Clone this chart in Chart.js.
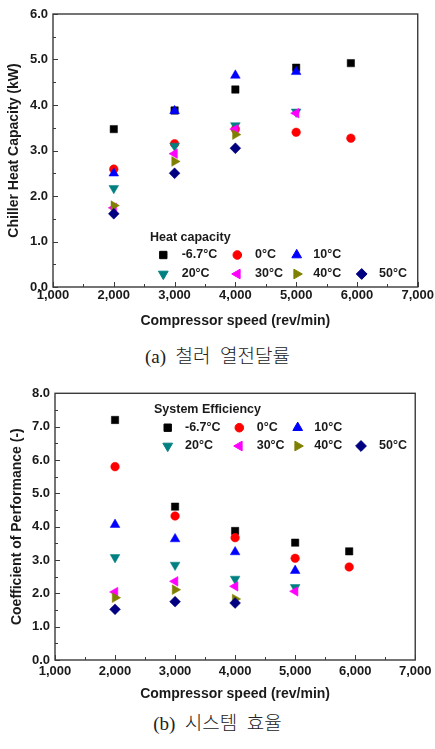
<!DOCTYPE html>
<html>
<head>
<meta charset="utf-8">
<script src="https://cdn.jsdelivr.net/npm/chart.js@4.4.0/dist/chart.umd.min.js"></script>
<style>
    body { margin: 0; background: #fff; width: 435px; height: 749px; position: relative; overflow: hidden; }
    .box { position: absolute; left: 0; width: 435px; }
    .cap { position: absolute; left: 0; width: 435px; text-align: center; font-family: "Liberation Serif", "Noto Sans CJK KR", serif; font-size: 19px; font-weight: 300; color: #222; white-space: pre; }
</style>
</head>
<body>
<div class="box" style="top:0; height:335px;"><canvas id="chartA"></canvas></div>
<div class="cap" style="top:341px;">(a)  철러  열전달률</div>
<div class="box" style="top:370px; height:335px;"><canvas id="chartB"></canvas></div>
<div class="cap" style="top:708px;">(b)  시스템  효율</div>

<script>
// Dados
const speeds = [2000, 3000, 4000, 5000, 5900];
const seriesLabels = ['-6.7°C', '0°C', '10°C', '20°C', '30°C', '40°C', '50°C'];

// (a) Heat capacity (kW)
const capM67 = [3.47, 3.88, 4.34, 4.82, 4.92];
const cap0   = [2.59, 3.15, 3.47, 3.40, 3.27];
const cap10  = [2.50, 3.87, 4.65, 4.73];
const cap20  = [2.17, 3.10, 3.55, 3.85];
const cap30  = [1.74, 2.93, 3.47, 3.82];
const cap40  = [1.79, 2.76, 3.35];
const cap50  = [1.61, 2.50, 3.05];

// (b) Coefficient of performance (-)
const copM67 = [7.20, 4.60, 3.87, 3.52, 3.26];
const cop0   = [5.80, 4.32, 3.67, 3.05, 2.79];
const cop10  = [4.06, 3.63, 3.24, 2.68];
const cop20  = [3.08, 2.85, 2.43, 2.18];
const cop30  = [2.04, 2.36, 2.21, 2.06];
const cop40  = [1.87, 2.11, 1.83];
const cop50  = [1.52, 1.75, 1.71];

// Estilo de cada série
const markerStyles = [
    { color: '#000000', style: 'rect',     rot: 0,   r: 5.2 },
    { color: '#ff0000', style: 'circle',   rot: 0,   r: 4.3 },
    { color: '#0000ff', style: 'triangle', rot: 0,   r: 5.6 },
    { color: '#008080', style: 'triangle', rot: 180, r: 5.6 },
    { color: '#ff00ff', style: 'triangle', rot: -90, r: 5.6 },
    { color: '#808000', style: 'triangle', rot: 90,  r: 5.6 },
    { color: '#000080', style: 'rectRot',  rot: 0,   r: 5.4 }
];

const FONT = '"Liberation Sans", Arial, sans-serif';
const INK = '#1a1a1a';
const FRAME = '#3a3a3a';

function makeDatasets(values) {
    return values.map((vals, i) => {
        const m = markerStyles[i];
        return {
            label: seriesLabels[i],
            data: vals.map((v, j) => ({ x: speeds[j], y: v })),
            pointStyle: m.style,
            rotation: m.rot,
            pointRadius: m.r,
            pointHoverRadius: m.r,
            pointBorderWidth: 0.5,
            backgroundColor: m.color,
            borderColor: m.color,
            showLine: false,
            order: values.length - i
        };
    });
}

// Moldura + ticks para dentro
const frameTicks = {
    id: 'frameTicks',
    afterDraw(chart, args, opts) {
        const { ctx, chartArea: a, scales: { x, y } } = chart;
        ctx.save();
        ctx.strokeStyle = FRAME;
        ctx.lineWidth = 1.4;
        ctx.strokeRect(a.left, a.top, a.right - a.left, a.bottom - a.top);
        ctx.lineWidth = 1;
        ctx.beginPath();
        for (let v = x.min; v <= x.max + 1e-6; v += opts.xMinor) {
            const px = Math.round(x.getPixelForValue(v)) + 0.5;
            const len = Math.abs((v / opts.xMinor) % 2) < 1e-6 ? 5 : 3;
            ctx.moveTo(px, a.bottom);
            ctx.lineTo(px, a.bottom - len);
        }
        for (let v = y.min; v <= y.max + 1e-6; v += opts.yMinor) {
            const py = Math.round(y.getPixelForValue(v)) + 0.5;
            const len = Math.abs(Math.round(v / opts.yMinor) % 2) === 0 ? 5 : 3;
            ctx.moveTo(a.left, py);
            ctx.lineTo(a.left + len, py);
        }
        ctx.stroke();
        ctx.restore();
    }
};

// Legenda dentro da área do gráfico
const boxLegend = {
    id: 'boxLegend',
    afterDraw(chart, args, opts) {
        const { ctx, chartArea: a } = chart;
        ctx.save();
        ctx.fillStyle = INK;
        ctx.font = 'bold 12.5px ' + FONT;
        ctx.textBaseline = 'middle';
        ctx.textAlign = 'left';
        ctx.fillText(opts.title, a.left + opts.titleX, a.top + opts.titleY);
        chart.data.datasets.forEach((ds, i) => {
            const row = i < 3 ? 0 : 1;
            const col = i < 3 ? i : i - 3;
            const cy = a.top + opts.rows[row];
            const m = markerStyles[i];
            ctx.fillStyle = m.color;
            ctx.strokeStyle = m.color;
            Chart.helpers.drawPoint(ctx, { pointStyle: m.style, rotation: m.rot, radius: m.r, borderWidth: 0.5 },
                a.left + opts.markX[col], cy);
            ctx.fillStyle = INK;
            ctx.fillText(ds.label, a.left + opts.textX[col], cy);
        });
        ctx.restore();
    }
};

function buildChart(id, values, cfg) {
    return new Chart(document.getElementById(id), {
        type: 'scatter',
        data: { datasets: makeDatasets(values) },
        options: {
            responsive: true,
            maintainAspectRatio: false,
            animation: false,
            layout: { padding: { left: 0, top: cfg.padTop, right: cfg.padRight, bottom: 0 } },
            plugins: {
                legend: { display: false },
                tooltip: { enabled: false },
                frameTicks: { xMinor: 500, yMinor: 0.5 },
                boxLegend: cfg.legend
            },
            scales: {
                x: {
                    type: 'linear', min: 1000, max: 7000,
                    afterFit: s => { s.height = cfg.xHeight; },
                    grid: { display: false, drawTicks: false },
                    border: { display: false },
                    ticks: {
                        stepSize: 1000, padding: cfg.xTickPad, color: INK,
                        font: { family: FONT, size: 13, weight: 'bold' },
                        callback: v => v.toLocaleString('en-US')
                    },
                    title: {
                        display: true, text: 'Compressor speed (rev/min)', color: INK,
                        font: { family: FONT, size: 14, weight: 'bold' },
                        padding: { top: 0, bottom: cfg.xTitlePad }
                    }
                },
                y: {
                    type: 'linear', min: 0, max: cfg.yMax,
                    afterFit: s => { s.width = cfg.yWidth; },
                    grid: { display: false, drawTicks: false },
                    border: { display: false },
                    ticks: {
                        stepSize: 1, padding: 5, color: INK,
                        font: { family: FONT, size: 13, weight: 'bold' },
                        callback: v => v.toFixed(1)
                    },
                    title: {
                        display: true, text: cfg.yTitle, color: INK,
                        font: { family: FONT, size: 14, weight: 'bold' },
                        padding: { top: cfg.yTitlePad, bottom: 0 }
                    }
                }
            }
        },
        plugins: [frameTicks, boxLegend]
    });
}

buildChart('chartA', [capM67, cap0, cap10, cap20, cap30, cap40, cap50], {
    padTop: 14, padRight: 15, xHeight: 48, yWidth: 53, yMax: 6,
    xTickPad: 1, xTitlePad: 5, yTitlePad: 6,
    yTitle: 'Chiller Heat Capacity (kW)',
    legend: {
        title: 'Heat capacity', titleX: 97, titleY: 223.3,
        rows: [241, 260],
        markX: [110.3, 184.3, 243.7, 308.7],
        textX: [128.7, 202, 260.3, 326]
    }
});

buildChart('chartB', [copM67, cop0, cop10, cop20, cop30, cop40, cop50], {
    padTop: 23.3, padRight: 19.3, xHeight: 45, yWidth: 55, yMax: 8,
    xTickPad: 3.5, xTitlePad: 2, yTitlePad: 9,
    yTitle: 'Coefficient of Performance (-)',
    legend: {
        title: 'System Efficiency', titleX: 99, titleY: 16.7,
        rows: [34.4, 52.7],
        markX: [112.7, 184.3, 242.7, 306],
        textX: [130, 201.7, 259.3, 324]
    }
});
</script>
</body>
</html>
